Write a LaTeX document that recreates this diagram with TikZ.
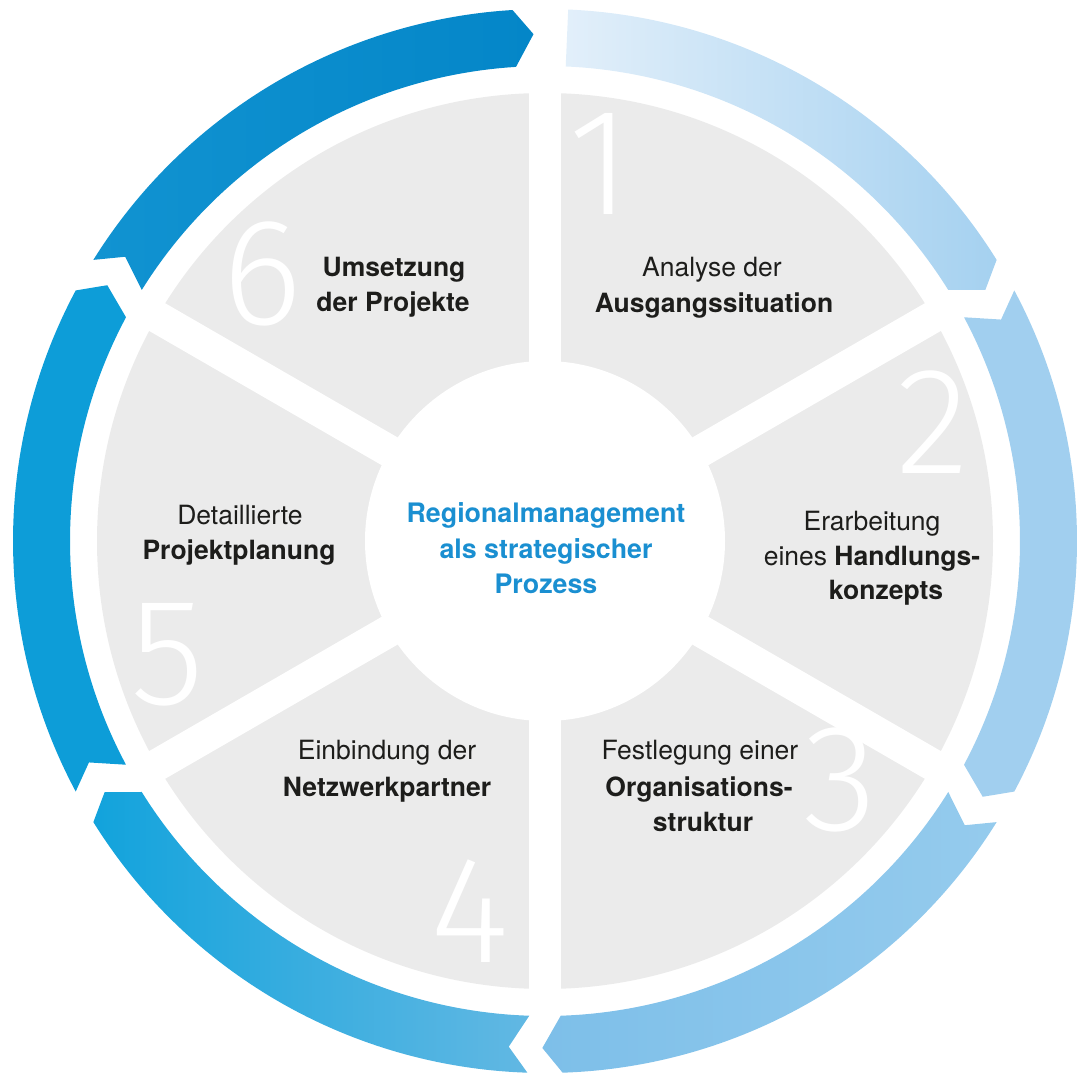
\documentclass[tikz,border=0pt]{standalone}
\usepackage{fontspec}
\setmainfont{TeX Gyre Heros}
\newfontfamily\numfont{Fira Sans Light}

\definecolor{labelcolor}{rgb}{0.113725, 0.113725, 0.105882}
\definecolor{hubcolor}{rgb}{0.101961, 0.560784, 0.819608}
\definecolor{ringaa}{rgb}{0.886275, 0.937255, 0.980392}
\definecolor{ringab}{rgb}{0.647059, 0.819608, 0.941176}
\definecolor{ringb}{rgb}{0.631373, 0.811765, 0.937255}
\definecolor{ringca}{rgb}{0.490196, 0.749020, 0.913725}
\definecolor{ringcb}{rgb}{0.584314, 0.796078, 0.929412}
\definecolor{ringda}{rgb}{0.070588, 0.639216, 0.862745}
\definecolor{ringdb}{rgb}{0.384314, 0.721569, 0.890196}
\definecolor{ringe}{rgb}{0.050980, 0.615686, 0.847059}
\definecolor{ringfa}{rgb}{0.066667, 0.576471, 0.819608}
\definecolor{ringfb}{rgb}{0.015686, 0.525490, 0.784314}

\newlength{\du}
\setlength{\du}{0.5pt}

\begin{document}
\begin{tikzpicture}[
  lbl/.style={anchor=base,inner sep=0pt,outer sep=0pt,text=labelcolor,
    font=\fontsize{13.25}{17.5}\selectfont},
  hub/.style={lbl,text=hubcolor,font=\fontsize{13.4}{17.5}\selectfont\bfseries},
  stepno/.style={anchor=base,inner sep=0pt,outer sep=0pt,text=white,
    font=\numfont\fontsize{76}{76}\selectfont}]
\pgftransformxscale{1.000000}
\pgftransformyscale{-1.000000}
\useasboundingbox (0\du,0\du) rectangle (1077\du,1074\du);
\pgfsetbuttcap
\pgfsetmiterjoin
% grey disc
\definecolor{dialinecolor}{rgb}{0.921569, 0.921569, 0.921569}
\pgfsetfillcolor{dialinecolor}
\pgfpathellipse{\pgfpoint{545\du}{541\du}}{\pgfpoint{448\du}{0\du}}{\pgfpoint{0\du}{448\du}}
\pgfusepath{fill}
% white spokes and hub
\definecolor{dialinecolor}{rgb}{1.000000, 1.000000, 1.000000}
\pgfsetfillcolor{dialinecolor}
\fill[dialinecolor] (529\du,80\du) rectangle (561\du,1002\du);
\fill[dialinecolor,rotate around={60:(545\du,541\du)}] (529\du,80\du) rectangle (561\du,1002\du);
\fill[dialinecolor,rotate around={-60:(545\du,541\du)}] (529\du,80\du) rectangle (561\du,1002\du);
\pgfpathellipse{\pgfpoint{545\du}{541\du}}{\pgfpoint{180\du}{0\du}}{\pgfpoint{0\du}{180\du}}
\pgfusepath{fill}
% arrow ring
\begin{scope}[shift={(545\du,541\du)}]
\shade[left color=ringaa,right color=ringab] (-87.5:532\du) arc[start angle=-87.5,end angle=-31.9,radius=532\du]
  -- (-29.7:507\du) -- (-31.9:475\du) arc[start angle=-31.9,end angle=-87.5,radius=475\du] -- cycle;
\fill[ringb] (-28.1:532\du) arc[start angle=-28.1,end angle=28.1,radius=532\du]
  -- (30.3:507\du) -- (28.1:475\du) arc[start angle=28.1,end angle=-28.1,radius=475\du] -- (-25.9:507\du) -- cycle;
\shade[left color=ringca,right color=ringcb] (31.9:532\du) arc[start angle=31.9,end angle=88.1,radius=532\du]
  -- (90.3:507\du) -- (88.1:475\du) arc[start angle=88.1,end angle=31.9,radius=475\du] -- (34.1:507\du) -- cycle;
\shade[left color=ringda,right color=ringdb] (91.9:532\du) arc[start angle=91.9,end angle=148.1,radius=532\du]
  -- (150.3:507\du) -- (148.1:475\du) arc[start angle=148.1,end angle=91.9,radius=475\du] -- (94.1:507\du) -- cycle;
\fill[ringe] (151.9:532\du) arc[start angle=151.9,end angle=208.1,radius=532\du]
  -- (210.3:507\du) -- (208.1:475\du) arc[start angle=208.1,end angle=151.9,radius=475\du] -- (154.1:507\du) -- cycle;
\shade[left color=ringfa,right color=ringfb] (211.9:532\du) arc[start angle=211.9,end angle=266.5,radius=532\du]
  -- (268.7:507\du) -- (266.5:475\du) arc[start angle=266.5,end angle=211.9,radius=475\du] -- (214.1:507\du) -- cycle;
\end{scope}
% step numbers
\node[stepno] (n1) at (600\du,215\du) {1};
\node[stepno] (n2) at (933\du,474\du) {2};
\node[stepno] (n3) at (840\du,830\du) {3};
\node[stepno] (n4) at (470\du,962\du) {4};
\node[stepno] (n5) at (168\du,705\du) {5};
\node[stepno] (n6) at (262\du,325\du) {6};
% labels
\node[lbl] (t1a) at (712\du,277\du) {Analyse der};
\node[lbl] (t1b) at (714\du,313\du) {\textbf{Ausgangssituation}};
\node[lbl] (t2a) at (872\du,531\du) {Erarbeitung};
\node[lbl] (t2b) at (872\du,566\du) {eines \textbf{Handlungs-}};
\node[lbl] (t2c) at (886\du,600\du) {\textbf{konzepts}};
\node[lbl] (t3a) at (700\du,760\du) {Festlegung einer};
\node[lbl] (t3b) at (699\du,797\du) {\textbf{Organisations-}};
\node[lbl] (t3c) at (703\du,832\du) {\textbf{struktur}};
\node[lbl] (t4a) at (387\du,760\du) {Einbindung der};
\node[lbl] (t4b) at (387\du,797\du) {\textbf{Netzwerkpartner}};
\node[lbl] (t5a) at (240\du,525\du) {Detaillierte};
\node[lbl] (t5b) at (239\du,560\du) {\textbf{Projektplanung}};
\node[lbl] (t6a) at (394\du,277\du) {\textbf{Umsetzung}};
\node[lbl] (t6b) at (393\du,312\du) {\textbf{der Projekte}};
\node[hub] (h1) at (546\du,523\du) {Regionalmanagement};
\node[hub] (h2) at (546\du,559\du) {als strategischer};
\node[hub] (h3) at (546\du,594\du) {Prozess};
\end{tikzpicture}
\end{document}
